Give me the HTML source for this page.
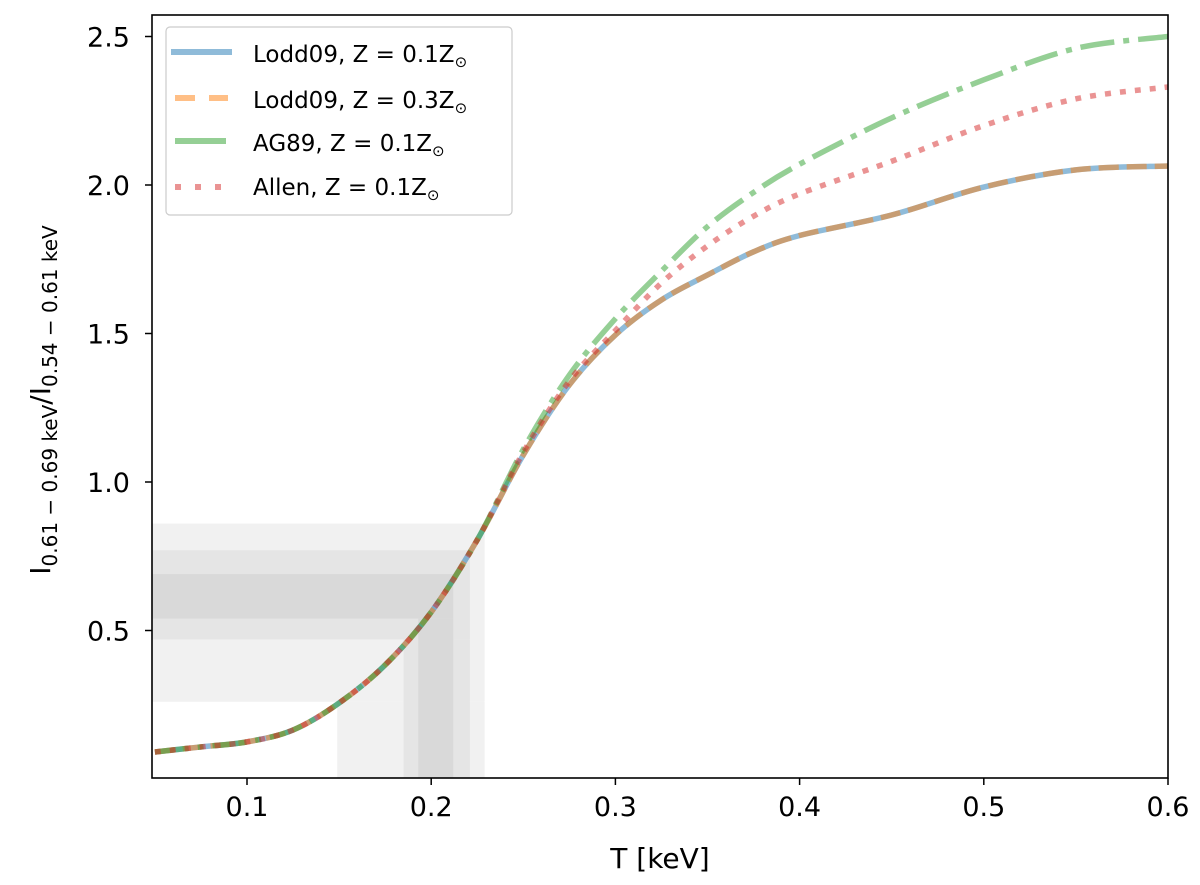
<!DOCTYPE html>
<html><head><meta charset="utf-8"><style>
body{margin:0;background:#fff}
svg{display:block;font-family:"DejaVu Sans","Liberation Sans",sans-serif}
</style></head><body>
<svg id="c" width="1200" height="885"></svg>
<script>
const T=[0.05,0.075,0.1,0.125,0.15,0.175,0.2,0.225,0.25,0.275,0.3,0.325,0.35,0.375,0.4,0.45,0.5,0.55,0.6];
const lodd01=[0.091,0.108,0.125,0.165,0.256,0.384,0.562,0.805,1.091,1.327,1.495,1.613,1.697,1.775,1.83,1.899,1.993,2.051,2.064];
const lodd03=[0.091,0.108,0.125,0.165,0.256,0.384,0.562,0.805,1.091,1.327,1.495,1.613,1.697,1.775,1.83,1.899,1.993,2.051,2.064];
const ag89=[0.091,0.108,0.125,0.165,0.256,0.384,0.562,0.805,1.11,1.36,1.55,1.71,1.86,1.975,2.07,2.226,2.354,2.46,2.50];
const allen=[0.091,0.108,0.125,0.165,0.256,0.384,0.562,0.805,1.10,1.34,1.51,1.67,1.795,1.895,1.97,2.08,2.2,2.29,2.33];
const xTicks=[0.1,0.2,0.3,0.4,0.5,0.6];
const yTicks=[0.5,1.0,1.5,2.0,2.5];
// bands: [low, high]
const bandT=[[0.149,0.229],[0.185,0.221],[0.193,0.212]];
const bandI=[[0.26,0.86],[0.47,0.77],[0.54,0.69]];
const bandColors=['#f1f1f1','#e5e5e5','#d9d9d9'];

const L=152,R=1168,TOP=15,B=778;
const X=t=>247+(t-0.1)*1842;
const Y=v=>185+(2.0-v)*297;
const svg=document.getElementById('c');
const NS='http://www.w3.org/2000/svg';
function mk(tag,a,p){const e=document.createElementNS(NS,tag);for(const k in a)e.setAttribute(k,a[k]);(p||svg).appendChild(e);return e;}

for(let i=0;i<3;i++){
  const xr=X(bandT[i][1]), xl=X(bandT[i][0]), yt=Y(bandI[i][1]), yb=Y(bandI[i][0]);
  const h=mk('rect',{x:L,y:yt,width:xr-L,height:yb-yt,fill:bandColors[i]});
  
  
  const v=mk('rect',{x:xl,y:yb,width:xr-xl,height:B-yb,fill:bandColors[i]});
  
  
}
const series=[
 {d:lodd01,c:'rgba(31,119,180,0.5)',dash:'',n:'line-lodd09-01'},
 {d:lodd03,c:'rgba(255,127,14,0.5)',dash:'20 8',n:'line-lodd09-03'},
 {d:ag89,c:'rgba(44,160,44,0.5)',dash:'34 9 6 9',n:'line-ag89'},
 {d:allen,c:'rgba(214,39,40,0.5)',dash:'6 9',n:'line-allen'}];
function pathD(d){
  const p=T.map((t,i)=>[X(t),Y(d[i])]);
  let s='M'+p[0][0]+','+p[0][1];
  for(let i=0;i<p.length-1;i++){
    const p0=p[Math.max(0,i-1)],p1=p[i],p2=p[i+1],p3=p[Math.min(p.length-1,i+2)];
    s+=' C'+(p1[0]+(p2[0]-p0[0])/6)+','+(p1[1]+(p2[1]-p0[1])/6)+' '+(p2[0]-(p3[0]-p1[0])/6)+','+(p2[1]-(p3[1]-p1[1])/6)+' '+p2[0]+','+p2[1];
  }
  return s;
}
const cp=mk('clipPath',{id:'cl'});mk('rect',{x:L,y:TOP,width:R-L,height:B-TOP},cp);
series.forEach(s=>{
  const e=mk('path',{d:pathD(s.d),fill:'none',stroke:s.c,'stroke-width':5.5,'stroke-dasharray':s.dash,'clip-path':'url(#cl)'});
  
  
});
const fr=mk('rect',{x:L,y:TOP,width:R-L,height:B-TOP,fill:'none',stroke:'#000','stroke-width':1.6});


xTicks.forEach(t=>{
  mk('line',{x1:X(t),x2:X(t),y1:B,y2:B+7,stroke:'#000','stroke-width':1.5});
  const e=mk('text',{x:X(t),y:B+38,'font-size':27,'text-anchor':'middle'});e.textContent=t.toFixed(1);
  
  
});
yTicks.forEach(v=>{
  mk('line',{x1:L-7,x2:L,y1:Y(v),y2:Y(v),stroke:'#000','stroke-width':1.5});
  const e=mk('text',{x:L-22,y:Y(v)+10,'font-size':27,'text-anchor':'end'});e.textContent=v.toFixed(1);
  
  
});
</script>
<svg style="position:absolute;left:0;top:0" width="1200" height="885">
<text x="660" y="868" font-size="28" text-anchor="middle">T [keV]</text>
<text transform="translate(50,400) rotate(-90)" font-size="28" text-anchor="middle">I<tspan font-size="20" dy="7">0.61 − 0.69 keV</tspan><tspan dy="-7">/I</tspan><tspan font-size="20" dy="7">0.54 − 0.61 keV</tspan></text>
<g font-size="23">
<rect x="166" y="27" width="346" height="188" rx="4" fill="#fff" stroke="#ccc" stroke-width="1.2"/>
<line x1="171" x2="232" y1="52" y2="52" stroke="rgba(31,119,180,0.5)" stroke-width="6"/>
<text x="253" y="62">Lodd09, Z = 0.1Z<tspan font-size="15" dy="5">⊙</tspan></text>
<line x1="175" x2="228" y1="98" y2="98" stroke="rgba(255,127,14,0.5)" stroke-width="6" stroke-dasharray="20 14"/>
<text x="253" y="108">Lodd09, Z = 0.3Z<tspan font-size="15" dy="5">⊙</tspan></text>
<line x1="175" x2="226" y1="141" y2="141" stroke="rgba(44,160,44,0.5)" stroke-width="6"/>
<text x="253" y="151">AG89, Z = 0.1Z<tspan font-size="15" dy="5">⊙</tspan></text>
<line x1="175" x2="226" y1="187" y2="187" stroke="rgba(214,39,40,0.5)" stroke-width="6" stroke-dasharray="6 14"/>
<text x="253" y="195">Allen, Z = 0.1Z<tspan font-size="15" dy="5">⊙</tspan></text>
</g>
</svg>
</body></html>
